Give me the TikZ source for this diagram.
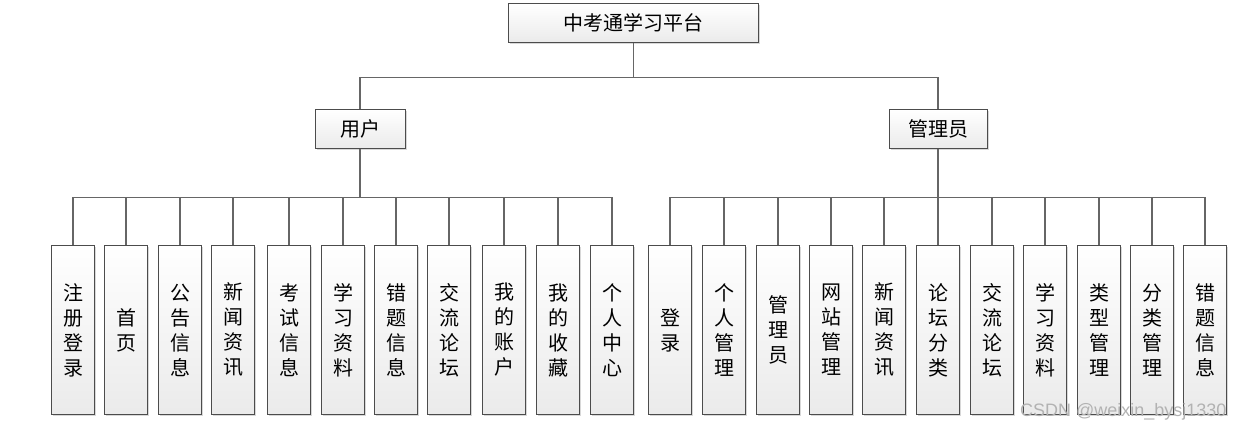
\documentclass[tikz,border=0pt]{standalone}
\usepackage{fontspec}
\newfontfamily\cjk{Noto Sans CJK SC}
\setsansfont{Liberation Sans}
\usetikzlibrary{shadows}

\begin{document}
\begin{tikzpicture}[x=1pt,y=-1pt,
    box/.style={draw=black!70,line width=0.8pt,top color=white,bottom color=black!8,
      drop shadow={shadow xshift=1.5pt,shadow yshift=-1.5pt,fill=black!30,opacity=0.5},
      font=\cjk\fontsize{20}{25}\selectfont,inner sep=0pt},
    leaf/.style={box,minimum width=43.5pt,minimum height=169pt,align=center},
    link/.style={draw=black!60,line width=1.1pt}]
    \useasboundingbox (0,0) rectangle (1242,432);
    \node[box,minimum width=250pt,minimum height=39pt] (root) at (633.5,23) {中考通学习平台};
    \node[box,minimum width=90pt,minimum height=38.5pt] (user) at (360,129) {用户};
    \node[box,minimum width=98pt,minimum height=38.5pt] (admin) at (938,129) {管理员};
    \foreach \x/\lbl [count=\n] in {73/{注\\册\\登\\录},126/{首\\页},180/{公\\告\\信\\息},233/{新\\闻\\资\\讯},
      289/{考\\试\\信\\息},343/{学\\习\\资\\料},396/{错\\题\\信\\息},449/{交\\流\\论\\坛},
      504/{我\\的\\账\\户},558/{我\\的\\收\\藏},612/{个\\人\\中\\心}}
      \node[leaf] (u\n) at (\x,330) {\lbl};
    \foreach \x/\lbl [count=\n] in {670/{登\\录},724/{个\\人\\管\\理},778/{管\\理\\员},831/{网\\站\\管\\理},
      884/{新\\闻\\资\\讯},938/{论\\坛\\分\\类},992/{交\\流\\论\\坛},1045/{学\\习\\资\\料},
      1099/{类\\型\\管\\理},1152/{分\\类\\管\\理},1205/{错\\题\\信\\息}}
      \node[leaf] (a\n) at (\x,330) {\lbl};
    \draw[link] (root.south) -- ++(0,35) -| (user.north);
    \draw[link] (root.south) -- ++(0,35) -| (admin.north);
    \foreach \n in {1,...,11}{
      \draw[link] (user.south) -- ++(0,49) -| (u\n.north);
      \draw[link] (admin.south) -- ++(0,49) -| (a\n.north);
    }
    \node[font=\sffamily\fontsize{18}{18}\selectfont,text=black!30,anchor=east] (mark) at (1230,412) {CSDN @weixin\_bysj1330};
\end{tikzpicture}
\end{document}
